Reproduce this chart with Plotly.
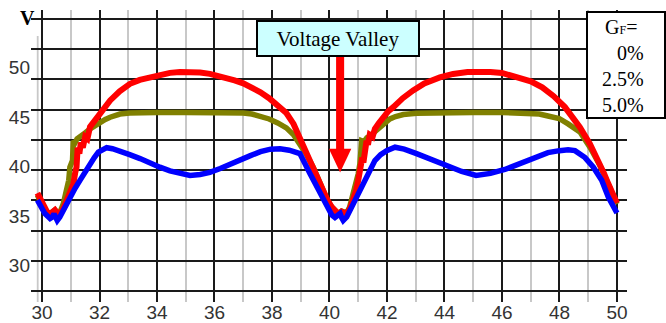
import plotly.graph_objects as go

# ---------------- data ----------------
blue_x = [29.84, 30.0, 30.1, 30.28, 30.36, 30.42, 30.48, 30.53, 30.62, 30.74, 30.85, 30.97,
          31.15, 31.32, 31.5, 31.67, 31.82, 31.96, 32.1, 32.25, 32.45, 32.71, 33.05, 33.41,
          33.75, 34.1, 34.45, 34.8, 35.15, 35.5, 35.84, 36.2, 36.54, 36.9, 37.25, 37.6,
          37.95, 38.28, 38.6, 38.97, 39.15, 39.32, 39.5, 39.67, 39.82, 39.96, 40.08, 40.19,
          40.28, 40.37, 40.43, 40.48, 40.6, 40.71, 40.83, 40.95, 41.12, 41.29, 41.45, 41.58,
          41.78, 41.99, 42.28, 42.6, 43.03, 43.6, 44.19, 44.6, 45.1, 45.6, 46.1, 46.6,
          47.1, 47.6, 48.0, 48.3, 48.54, 48.89, 49.18, 49.47, 49.7, 49.85, 50.0]
blue_y = [36.6, 35.8, 35.25, 34.75, 34.9, 35.2, 34.8, 34.55, 34.9, 35.6, 36.2, 36.8,
          37.8, 38.6, 39.5, 40.3, 40.9, 41.45, 41.75, 41.9, 41.8, 41.6, 41.2, 40.8,
          40.3, 39.93, 39.55, 39.26, 39.1, 39.2, 39.4, 39.8, 40.27, 40.7, 41.1, 41.5,
          41.75, 41.8, 41.65, 41.3, 40.4, 39.3, 38.3, 37.27, 36.4, 35.55, 35.1, 34.85,
          35.0, 35.25, 34.8, 34.55, 34.9, 35.55, 36.2, 36.9, 37.9, 38.9, 39.8, 40.6,
          41.2, 41.6, 41.95, 41.75, 41.3, 40.6, 39.9, 39.5, 39.1, 39.3, 39.7, 40.3,
          40.9, 41.4, 41.6, 41.7, 41.6, 40.9, 39.93, 38.6, 36.9, 36.0, 35.3]

red_x = [29.84, 29.95, 30.05, 30.18, 30.28, 30.38, 30.45, 30.53, 30.63, 30.75, 30.86, 30.97,
         31.09, 31.15, 31.2, 31.24, 31.3, 31.35, 31.42, 31.5, 31.58, 31.67, 31.85, 32.02,
         32.2, 32.37, 32.7, 33.06, 33.4, 33.76, 34.1, 34.45, 34.8, 35.15, 35.5, 35.84,
         36.1, 36.42, 36.7, 37.0, 37.3, 37.6, 37.9, 38.2, 38.5, 38.75, 39.0, 39.2,
         39.44, 39.6, 39.78, 39.93, 40.08, 40.2, 40.31, 40.42, 40.5, 40.6, 40.72, 40.83,
         40.92, 41.0, 41.08, 41.14, 41.18, 41.22, 41.29, 41.34, 41.4, 41.5, 41.58, 41.72,
         41.87, 42.05, 42.22, 42.55, 42.91, 43.3, 43.84, 44.3, 44.8, 45.2, 45.6, 46.0,
         46.5, 47.0, 47.4, 47.8, 48.19, 48.45, 48.71, 49.06, 49.25, 49.41, 49.55, 49.7,
         49.85, 50.0]
red_y = [37.3, 36.6, 35.9, 35.4, 35.2, 35.4, 35.6, 35.3, 35.25, 35.8, 36.57, 37.4,
         38.25, 39.3, 39.93, 41.9, 41.3, 42.4, 41.9, 43.0, 42.8, 44.0, 44.7, 45.3,
         46.0, 46.67, 47.6, 48.35, 48.75, 49.0, 49.3, 49.46, 49.55, 49.6, 49.5, 49.36,
         49.2, 49.0, 48.7, 48.4, 48.0, 47.5, 46.9, 46.2, 45.4, 44.3, 42.6, 41.3,
         39.93, 38.8, 37.6, 36.6, 35.9, 35.4, 35.2, 35.45, 35.3, 35.2, 35.8, 36.6,
         37.5, 38.6, 39.6, 40.9, 40.4, 41.8, 42.6, 42.2, 43.2, 43.0, 43.8, 44.4,
         44.98, 45.6, 45.99, 46.9, 47.68, 48.4, 49.0, 49.35, 49.55, 49.6, 49.55, 49.45,
         49.1, 48.6, 48.0, 47.1, 46.0, 45.1, 43.97, 42.29, 41.2, 40.27, 39.3, 38.25,
         37.3, 36.3]

olive_x = [29.84, 29.95, 30.05, 30.18, 30.28, 30.38, 30.45, 30.53, 30.63, 30.74, 30.86, 30.93,
           30.97, 31.02, 31.06, 31.09, 31.15, 31.22, 31.32, 31.5, 31.67, 31.85, 32.02, 32.2,
           32.37, 32.55, 32.71, 33.05, 33.41, 34.0, 35.0, 36.0, 37.0, 37.3, 37.6, 37.9,
           38.2, 38.5, 38.75, 39.0, 39.2, 39.44, 39.6, 39.78, 39.93, 40.08, 40.2, 40.31,
           40.42, 40.5, 40.6, 40.7, 40.83, 40.92, 41.0, 41.06, 41.12, 41.2, 41.3, 41.41,
           41.58, 41.76, 41.93, 42.1, 42.3, 42.57, 43.03, 44.0, 45.0, 46.0, 47.0, 47.3,
           47.6, 47.99, 48.3, 48.71, 49.06, 49.25, 49.41, 49.55, 49.7, 49.85, 50.0]
olive_y = [37.1, 36.5, 35.8, 35.4, 35.25, 35.45, 35.6, 35.35, 35.4, 36.23, 37.6, 38.6,
           39.93, 40.2, 40.6, 42.6, 42.4, 42.8, 42.96, 43.4, 43.8, 44.15, 44.47, 44.75,
           44.98, 45.15, 45.3, 45.4, 45.45, 45.45, 45.45, 45.45, 45.4, 45.3, 45.1, 44.8,
           44.4, 43.9, 43.2, 42.2, 41.2, 39.9, 38.8, 37.6, 36.6, 35.9, 35.45, 35.25,
           35.5, 35.35, 35.3, 35.9, 37.24, 38.3, 39.26, 40.3, 42.6, 42.5, 42.9, 43.1,
           43.5, 43.97, 44.4, 44.8, 45.05, 45.25, 45.38, 45.45, 45.45, 45.45, 45.4, 45.3,
           45.1, 44.85, 44.3, 43.5, 41.95, 41.0, 40.1, 39.2, 38.2, 37.2, 36.2]

y_tick_vals = [30, 35, 40, 45, 50]
legend_title = "G<span style='font-size:12px'>F</span>="
legend_items = ["0%", "2.5%", "5.0%"]
callout_text = "Voltage Valley"
arrow_x = 40.37

# ---------------- figure ----------------
X_RANGE = [29.617, 50.35]
Y_RANGE = [26.31, 55.81]
SERIF = "Liberation Serif, Times New Roman, serif"
SANS = "Liberation Sans Narrow, Arial Narrow, Liberation Sans, Arial, sans-serif"

fig = go.Figure()
fig.add_trace(go.Scatter(x=olive_x, y=olive_y, mode="lines",
                         line=dict(color="#808000", width=5.5), showlegend=False))
fig.add_trace(go.Scatter(x=red_x, y=red_y, mode="lines",
                         line=dict(color="#ff0000", width=6), showlegend=False))
fig.add_trace(go.Scatter(x=blue_x, y=blue_y, mode="lines",
                         line=dict(color="#0000ff", width=5.5), showlegend=False))
# helper trace so the grid axis is rendered
fig.add_trace(go.Scatter(x=[None], y=[None], yaxis="y2", showlegend=False, hoverinfo="skip"))

fig.update_layout(
    width=666, height=323,
    margin=dict(l=31, r=39, t=10, b=21, pad=0),
    paper_bgcolor="white", plot_bgcolor="white",
    xaxis=dict(range=X_RANGE, tick0=30, dtick=2, showgrid=True, gridcolor="#1a1a1a",
               gridwidth=1.6, zeroline=False, showline=False, ticks="",
               ticklabelstandoff=-3,
               tickfont=dict(family=SANS, size=19, color="#333"),
               minor=dict(dtick=1, tick0=30, showgrid=True, gridcolor="#c8c8c8", gridwidth=1.6),
               automargin=False, fixedrange=True),
    yaxis=dict(range=Y_RANGE, tickvals=y_tick_vals, showgrid=False, zeroline=False,
               showline=False, ticks="",
               tickfont=dict(family=SANS, size=19, color="#333"),
               automargin=False, fixedrange=True),
    yaxis2=dict(range=Y_RANGE, overlaying="y", side="left", tick0=27.42, dtick=3.055,
                showgrid=True, gridcolor="#1a1a1a", gridwidth=1.6, showticklabels=False,
                zeroline=False, showline=False, ticks="", automargin=False, fixedrange=True),
)

pw, ph = 596.0, 292.0
def px_x(p):
    return (p - 31) / pw
def px_y(p):
    return (302 - p) / ph

shapes = [
    # blank top-left corner (where the "V" unit sits)
    dict(type="rect", xref="paper", yref="paper", x0=-0.01, x1=px_x(55), y0=px_y(36), y1=1.01,
         fillcolor="white", line=dict(width=0), layer="between"),
    # light left border line
    dict(type="line", xref="x", yref="paper", x0=29.85, x1=29.85, y0=0, y1=px_y(36),
         line=dict(color="#c8c8c8", width=1.8), layer="between"),
    # arrow shaft
    dict(type="rect", xref="x", yref="y", x0=arrow_x - 0.14, x1=arrow_x + 0.14, y0=41.7, y1=51.2,
         fillcolor="#ff0000", line=dict(width=0), layer="above"),
    # arrow head
    dict(type="path", xref="x", yref="y",
         path=f"M {arrow_x - 0.39} 41.8 L {arrow_x + 0.39} 41.8 L {arrow_x} 39.4 Z",
         fillcolor="#ff0000", line=dict(width=0), layer="above"),
    # legend box
    dict(type="rect", xref="paper", yref="paper", x0=px_x(587), x1=px_x(665), y0=px_y(118),
         y1=px_y(12), fillcolor="white", line=dict(color="black", width=2), layer="above"),
]
fig.update_layout(shapes=shapes)

annotations = [
    dict(text="<b>V</b>", xref="paper", yref="paper", x=px_x(27), y=px_y(18.5),
         showarrow=False, xanchor="center", yanchor="middle",
         font=dict(family=SERIF, size=20, color="black")),
    dict(text=callout_text, xref="x", yref="y", x=40.30, y=52.98, showarrow=False,
         xanchor="center", yanchor="middle", bgcolor="#ccffff", bordercolor="black",
         borderwidth=2, borderpad=0, width=160, height=33,
         font=dict(family=SERIF, size=21, color="black")),
    dict(text=legend_title, xref="paper", yref="paper", x=px_x(603), y=px_y(27),
         showarrow=False, xanchor="left", yanchor="middle",
         font=dict(family=SERIF, size=20, color="black")),
]
for i, item in enumerate(legend_items):
    annotations.append(dict(text=item, xref="paper", yref="paper", x=px_x(646),
                            y=px_y(53 + 26 * i), showarrow=False, xanchor="right",
                            yanchor="middle", font=dict(family=SERIF, size=20, color="black")))
fig.update_layout(annotations=annotations)

fig.write_html("out.html", config={"displayModeBar": False},
               post_script="document.body.style.margin='0';document.body.style.padding='0';"
                           "document.body.style.overflow='hidden';")
